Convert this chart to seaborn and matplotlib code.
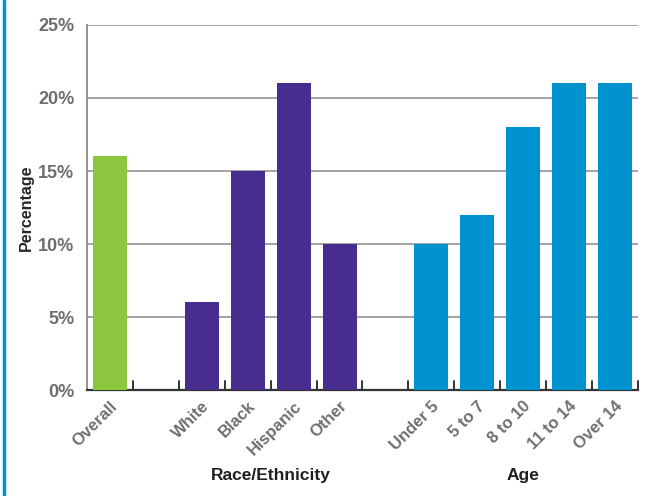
import matplotlib
matplotlib.use('Agg')
import matplotlib.pyplot as plt
import seaborn as sns
import pandas as pd
from matplotlib.lines import Line2D
from matplotlib.ticker import FixedLocator, PercentFormatter

# data
labels = ['Overall', 'White', 'Black', 'Hispanic', 'Other',
          'Under 5', '5 to 7', '8 to 10', '11 to 14', 'Over 14']
values = [16, 6, 15, 21, 10, 10, 12, 18, 21, 21]
groups = ['Overall', 'Race', 'Race', 'Race', 'Race',
          'Age', 'Age', 'Age', 'Age', 'Age']
slot_order = ['Overall', ' ', 'White', 'Black', 'Hispanic', 'Other', '  ',
              'Under 5', '5 to 7', '8 to 10', '11 to 14', 'Over 14']
group_titles = {'Race/Ethnicity': ('White', 'Other'), 'Age': ('Under 5', 'Over 14')}
colors = {'Overall': '#8dc63f', 'Race': '#472d8e', 'Age': '#0093d0'}

df = pd.DataFrame({'label': labels, 'value': values, 'group': groups})

sns.set_style('white')
plt.rcParams['font.family'] = ['Liberation Sans', 'DejaVu Sans']
plt.rcParams['font.weight'] = 'bold'

fig = plt.figure(figsize=(6.53, 4.96), dpi=100)
ax = fig.add_axes([0.1332, 0.2137, 0.977 - 0.1332, 0.9496 - 0.2137])

sns.barplot(data=df, x='label', y='value', hue='group', order=slot_order,
            palette=colors, dodge=False, width=0.74, legend=False,
            saturation=1, linewidth=0, ax=ax, zorder=3)

n = len(slot_order)
ax.set_xlim(-0.5, n - 0.5)
ax.set_ylim(0, 25)
ax.yaxis.set_major_locator(FixedLocator([0, 5, 10, 15, 20, 25]))
ax.yaxis.set_major_formatter(PercentFormatter(decimals=0))
ax.grid(axis='y', color='#8a8a8a', linewidth=1.1, zorder=0)
ax.set_axisbelow(True)

for s in ['top', 'right']:
    ax.spines[s].set_visible(False)
ax.spines['left'].set_color('#808080')
ax.spines['left'].set_linewidth(1.2)
ax.spines['bottom'].set_color('#333333')
ax.spines['bottom'].set_linewidth(1.6)

ax.tick_params(axis='y', length=0, pad=9, labelsize=13, labelcolor='#6d6e71')
ax.tick_params(axis='x', which='major', length=0, pad=6, labelsize=12,
               labelcolor='#6d6e71')
ax.set_xticks(range(n))
ax.set_xticklabels(slot_order, rotation=45, ha='right', rotation_mode='anchor')

# inward tick marks at slot boundaries
for i in range(n):
    ax.add_line(Line2D([i + 0.5, i + 0.5], [0, 0.024],
                       transform=ax.get_xaxis_transform(), color='#333333',
                       linewidth=1.4, zorder=5, clip_on=False))

ax.set_xlabel('')
ax.set_ylabel('Percentage', fontsize=11.5, fontweight='bold', labelpad=3)

for title, (a, b) in group_titles.items():
    xc = (slot_order.index(a) + slot_order.index(b)) / 2
    ax.text(xc, -0.235, title, transform=ax.get_xaxis_transform(),
            ha='center', va='center', fontsize=12.5, fontweight='bold',
            color='#231f20')

fig.add_artist(Line2D([0.006, 0.006], [0, 1], transform=fig.transFigure,
                      color='#0093d0', linewidth=2.5))

fig.savefig('out.png', dpi=100)
